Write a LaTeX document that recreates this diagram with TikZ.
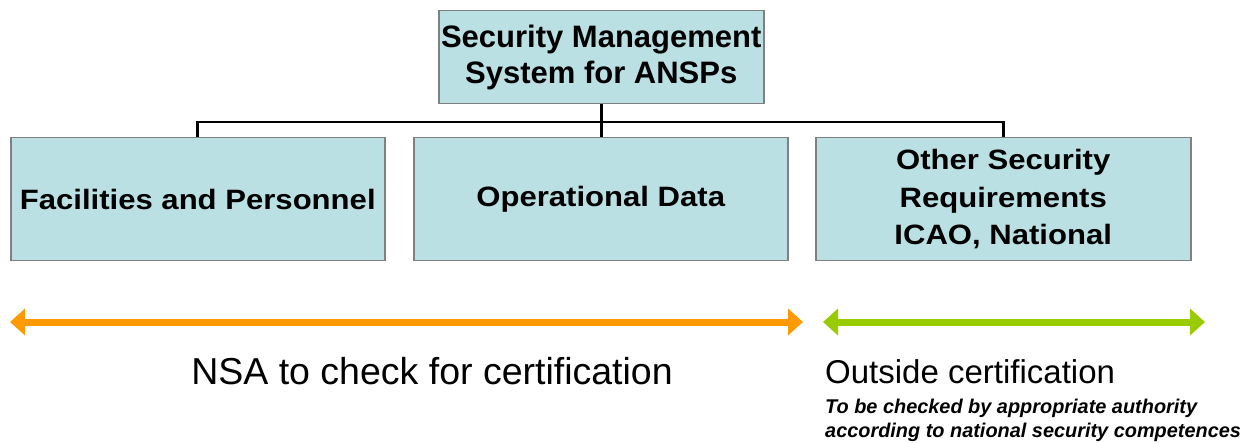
\documentclass[tikz,border=0pt]{standalone}
\usepackage{fontspec}
\setmainfont{Liberation Sans}
\newfontfamily\wideface[FakeStretch=1.11]{Liberation Sans}
\usetikzlibrary{arrows.meta}

\definecolor{boxfill}{RGB}{187,224,227}
\definecolor{boxedge}{RGB}{128,128,128}
\definecolor{nsaorange}{RGB}{255,153,0}
\definecolor{outgreen}{RGB}{153,204,0}

\tikzset{
  unitbox/.style={draw=boxedge, line width=1.5pt, fill=boxfill, anchor=north west,
    align=center, inner sep=0pt},
  topbox/.style={unitbox, font=\bfseries\fontsize{31}{36}\selectfont},
  subbox/.style={unitbox, font=\wideface\bfseries\fontsize{28}{37.5}\selectfont},
  conn/.style={draw=black, line width=2.8pt},
  span/.style={line width=7pt, {Triangle[length=15pt,width=26pt]}-{Triangle[length=15pt,width=26pt]}},
  note/.style={anchor=base west, inner sep=0pt, font=\bfseries\itshape\fontsize{19.9}{24}\selectfont},
}

\begin{document}
\begin{tikzpicture}[x=1pt, y=-1pt]
  \useasboundingbox (0,0) rectangle (1249,443);

  % management system and its three areas
  \node[topbox, minimum width=325pt, minimum height=93pt] (sms) at (438,10)
    {Security Management\\System for ANSPs};
  \node[subbox, minimum width=374pt, minimum height=123pt] (fac) at (10,137)
    {Facilities and Personnel};
  \node[subbox, minimum width=374pt, minimum height=123pt] (ops) at (413,137)
    {Operational Data};
  \node[subbox, minimum width=375pt, minimum height=123pt] (oth) at (815,137)
    {Other Security\\Requirements\\ICAO, National};

  % tree connectors
  \coordinate (bus) at (600,122);
  \draw[conn] (sms.south) -- (sms.south |- ops.north);
  \draw[conn] (fac.north) -- (fac.north |- bus) -- (oth.north |- bus) -- (oth.north);

  % scope arrows
  \coordinate (nsaL) at (10,322);
  \coordinate (nsaR) at (803,322);
  \coordinate (outL) at (823,322);
  \coordinate (outR) at (1205,322);
  \draw[span, draw=nsaorange, fill=nsaorange] (nsaL) -- (nsaR);
  \draw[span, draw=outgreen, fill=outgreen] (outL) -- (outR);

  % scope labels
  \node[anchor=base, inner sep=0pt, font=\fontsize{37.5}{40}\selectfont] (nsa) at (432,384)
    {NSA to check for certification};
  \node[anchor=base west, inner sep=0pt, font=\fontsize{33}{36}\selectfont] (out) at (825,383)
    {Outside certification};
  \node[note] (auth1) at (825,413) {To be checked by appropriate authority};
  \node[note] (auth2) at (825,437) {according to national security competences};
\end{tikzpicture}
\end{document}
